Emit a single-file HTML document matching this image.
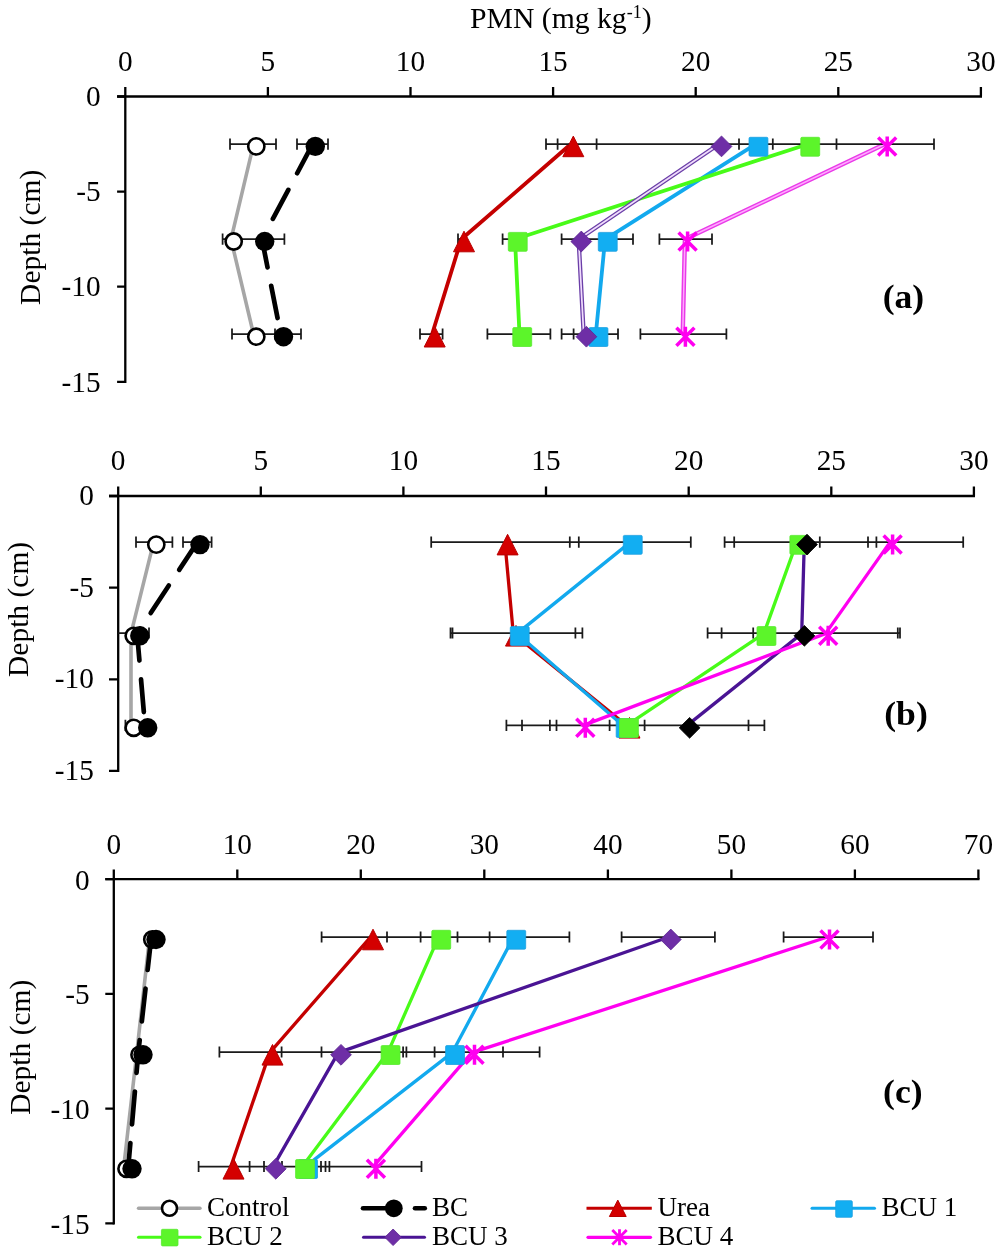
<!DOCTYPE html>
<html lang="en"><head><meta charset="utf-8"><title>PMN depth profiles</title>
<style>html,body{margin:0;padding:0;background:#fff}svg{display:block}text{font-family:'Liberation Serif', 'Times New Roman', serif;fill:#000}</style>
</head><body>
<svg width="1000" height="1256" viewBox="0 0 1000 1256">
<rect width="1000" height="1256" fill="#fff"/>
<text x="560.8" y="28.1" text-anchor="middle" font-size="29.7">PMN (mg kg<tspan font-size="18" dy="-10">-1</tspan><tspan dy="10">)</tspan></text>
<g id="panel-a">
<path d="M125.3 382.9V96.5M117.1 96.5H982.0" fill="none" stroke="#000" stroke-width="2.3"/>
<text x="125.3" y="71.2" text-anchor="middle" font-size="29.3">0</text>
<text x="267.9" y="71.2" text-anchor="middle" font-size="29.3">5</text>
<text x="410.5" y="71.2" text-anchor="middle" font-size="29.3">10</text>
<text x="553.1" y="71.2" text-anchor="middle" font-size="29.3">15</text>
<text x="695.7" y="71.2" text-anchor="middle" font-size="29.3">20</text>
<text x="838.3" y="71.2" text-anchor="middle" font-size="29.3">25</text>
<text x="980.9" y="71.2" text-anchor="middle" font-size="29.3">30</text>
<text x="100.6" y="106.2" text-anchor="end" font-size="29.3">0</text>
<text x="100.6" y="201.3" text-anchor="end" font-size="29.3">-5</text>
<text x="100.6" y="296.4" text-anchor="end" font-size="29.3">-10</text>
<text x="100.6" y="391.5" text-anchor="end" font-size="29.3">-15</text>
<path d="M125.3 96.5V86.9M267.9 96.5V86.9M410.5 96.5V86.9M553.1 96.5V86.9M695.7 96.5V86.9M838.3 96.5V86.9M980.9 96.5V86.9M125.3 96.5H117.1M125.3 191.6H117.1M125.3 286.7H117.1M125.3 381.8H117.1" fill="none" stroke="#000" stroke-width="2.3"/>
<path d="M253.6 144.2L231.0 239.3L253.6 334.5" fill="none" stroke="#a6a6a6" stroke-width="3.6" stroke-linejoin="round" />
<path d="M312.6 144.2L262.0 239.3L280.8 334.5" fill="none" stroke="#000000" stroke-width="4.7" stroke-linejoin="round" stroke-linecap="round" stroke-dasharray="32.9 18.8"/>
<path d="M570.6 144.2L461.3 239.3L432.0 334.5" fill="none" stroke="#c40000" stroke-width="3.8" stroke-linejoin="round" />
<path d="M755.8 144.2L605.1 239.3L595.8 334.5" fill="none" stroke="#12a9ee" stroke-width="3.8" stroke-linejoin="round" />
<path d="M807.6 144.2L515.0 239.3L519.5 334.5" fill="none" stroke="#48fb18" stroke-width="3.8" stroke-linejoin="round" />
<path d="M718.8 144.2L578.6 239.3L583.7 334.5" fill="none" stroke="#6b3fa8" stroke-width="4.3" stroke-linejoin="round" />
<path d="M718.8 144.2L578.6 239.3L583.7 334.5" fill="none" stroke="#f0dcfc" stroke-width="1.7" stroke-linejoin="round" />
<path d="M884.5 144.2L684.9 239.3L682.7 334.5" fill="none" stroke="#e93ae8" stroke-width="4.4" stroke-linejoin="round" />
<path d="M884.5 144.2L684.9 239.3L682.7 334.5" fill="none" stroke="#ffa8ff" stroke-width="1.5" stroke-linejoin="round" />
<path d="M230.0 144.2H276.0M230.0 138.6V149.8M276.0 138.6V149.8M297.0 144.2H328.0M297.0 138.6V149.8M328.0 138.6V149.8M546.0 144.2H934.0M546.0 138.6V149.8M557.6 138.6V149.8M596.6 138.6V149.8M739.0 138.6V149.8M772.8 138.6V149.8M836.5 138.6V149.8M934.0 138.6V149.8" fill="none" stroke="#1a1a1a" stroke-width="1.75"/>
<path d="M222.6 239.2H284.4M222.6 233.6V244.8M284.4 233.6V244.8M458.0 239.2H466.0M458.0 233.6V244.8M502.6 239.2H520.0M502.6 233.6V244.8M561.6 239.2H633.0M561.6 233.6V244.8M633.0 233.6V244.8M659.4 239.2H712.0M659.4 233.6V244.8M712.0 233.6V244.8" fill="none" stroke="#1a1a1a" stroke-width="1.75"/>
<path d="M232.0 334.0H301.0M232.0 328.4V339.6M275.0 328.4V339.6M301.0 328.4V339.6M420.0 334.0H442.6M420.0 328.4V339.6M442.6 328.4V339.6M487.4 334.0H550.4M487.4 328.4V339.6M550.4 328.4V339.6M561.6 334.0H618.0M561.6 328.4V339.6M573.6 328.4V339.6M618.0 328.4V339.6M640.4 334.0H726.4M640.4 328.4V339.6M726.4 328.4V339.6" fill="none" stroke="#1a1a1a" stroke-width="1.75"/>
<circle cx="256.3" cy="146.4" r="8.1" fill="#fff" stroke="#000" stroke-width="2.6"/>
<circle cx="315.3" cy="146.4" r="9.7" fill="#000"/>
<path d="M573.3 136.1L583.8 156.7L562.8 156.7Z" fill="#d40000" stroke="#b80000" stroke-width="1" stroke-linejoin="miter"/>
<rect x="749.0" y="137.3" width="18.9" height="18.9" rx="1.2" fill="#12aef2" stroke="#1e9fe0" stroke-width="0.8"/>
<rect x="800.8" y="137.3" width="18.9" height="18.9" rx="1.2" fill="#5cf52a" stroke="#58e830" stroke-width="0.8"/>
<path d="M721.5 136.0L731.9 146.4L721.5 156.8L711.1 146.4Z" fill="#6e2ea6" stroke="#5a2490" stroke-width="0.8"/>
<path d="M878.2 137.4L896.2 155.4M878.2 155.4L896.2 137.4M887.2 136.4L887.2 156.4" fill="none" stroke="#ff00f0" stroke-width="3.5" stroke-linecap="butt"/>
<circle cx="233.7" cy="241.5" r="8.1" fill="#fff" stroke="#000" stroke-width="2.6"/>
<circle cx="264.7" cy="241.5" r="9.7" fill="#000"/>
<path d="M464.0 231.2L474.5 251.8L453.5 251.8Z" fill="#d40000" stroke="#b80000" stroke-width="1" stroke-linejoin="miter"/>
<rect x="598.3" y="232.4" width="18.9" height="18.9" rx="1.2" fill="#12aef2" stroke="#1e9fe0" stroke-width="0.8"/>
<rect x="508.3" y="232.4" width="18.9" height="18.9" rx="1.2" fill="#5cf52a" stroke="#58e830" stroke-width="0.8"/>
<path d="M581.3 231.1L591.7 241.5L581.3 251.9L570.9 241.5Z" fill="#6e2ea6" stroke="#5a2490" stroke-width="0.8"/>
<path d="M678.6 232.5L696.6 250.5M678.6 250.5L696.6 232.5M687.6 231.5L687.6 251.5" fill="none" stroke="#ff00f0" stroke-width="3.5" stroke-linecap="butt"/>
<circle cx="256.3" cy="336.7" r="8.1" fill="#fff" stroke="#000" stroke-width="2.6"/>
<circle cx="283.5" cy="336.7" r="9.7" fill="#000"/>
<path d="M434.7 326.4L445.2 347.0L424.2 347.0Z" fill="#d40000" stroke="#b80000" stroke-width="1" stroke-linejoin="miter"/>
<rect x="589.0" y="327.6" width="18.9" height="18.9" rx="1.2" fill="#12aef2" stroke="#1e9fe0" stroke-width="0.8"/>
<rect x="512.8" y="327.6" width="18.9" height="18.9" rx="1.2" fill="#5cf52a" stroke="#58e830" stroke-width="0.8"/>
<path d="M586.4 326.3L596.8 336.7L586.4 347.1L576.0 336.7Z" fill="#6e2ea6" stroke="#5a2490" stroke-width="0.8"/>
<path d="M676.4 327.7L694.4 345.7M676.4 345.7L694.4 327.7M685.4 326.7L685.4 346.7" fill="none" stroke="#ff00f0" stroke-width="3.5" stroke-linecap="butt"/>
<text transform="translate(903.4 308) scale(1.08 1)" text-anchor="middle" font-size="33" font-weight="bold">(a)</text>
<text transform="translate(39.9 237.3) rotate(-90)" text-anchor="middle" font-size="29.5">Depth (cm)</text>
</g>
<g id="panel-b">
<path d="M118.2 772.0V496.0M109.0 496.0H975.0" fill="none" stroke="#000" stroke-width="2.3"/>
<text x="118.2" y="470.2" text-anchor="middle" font-size="29.3">0</text>
<text x="260.8" y="470.2" text-anchor="middle" font-size="29.3">5</text>
<text x="403.4" y="470.2" text-anchor="middle" font-size="29.3">10</text>
<text x="546.0" y="470.2" text-anchor="middle" font-size="29.3">15</text>
<text x="688.7" y="470.2" text-anchor="middle" font-size="29.3">20</text>
<text x="831.3" y="470.2" text-anchor="middle" font-size="29.3">25</text>
<text x="973.9" y="470.2" text-anchor="middle" font-size="29.3">30</text>
<text x="93.9" y="504.9" text-anchor="end" font-size="29.3">0</text>
<text x="93.9" y="596.5" text-anchor="end" font-size="29.3">-5</text>
<text x="93.9" y="688.2" text-anchor="end" font-size="29.3">-10</text>
<text x="93.9" y="779.8" text-anchor="end" font-size="29.3">-15</text>
<path d="M118.2 496.0V486.4M260.8 496.0V486.4M403.4 496.0V486.4M546.0 496.0V486.4M688.7 496.0V486.4M831.3 496.0V486.4M973.9 496.0V486.4M118.2 496.0H109.0M118.2 587.6H109.0M118.2 679.3H109.0M118.2 770.9H109.0" fill="none" stroke="#000" stroke-width="2.3"/>
<path d="M153.6 542.4L131.0 633.6L131.0 725.6" fill="none" stroke="#a6a6a6" stroke-width="3.6" stroke-linejoin="round" />
<path d="M197.3 542.4L137.1 633.6L145.0 725.6" fill="none" stroke="#000000" stroke-width="4.7" stroke-linejoin="round" stroke-linecap="round" stroke-dasharray="32.9 18.8"/>
<path d="M504.9 542.4L513.3 633.6L626.8 725.6" fill="none" stroke="#c40000" stroke-width="3.3" stroke-linejoin="round" />
<path d="M630.1 542.4L517.0 633.6L623.0 725.6" fill="none" stroke="#12a9ee" stroke-width="3.3" stroke-linejoin="round" />
<path d="M796.7 542.4L763.8 633.6L626.3 725.6" fill="none" stroke="#48fb18" stroke-width="3.3" stroke-linejoin="round" />
<path d="M804.3 542.4L801.7 633.6L686.9 725.6" fill="none" stroke="#4a1494" stroke-width="3.3" stroke-linejoin="round" />
<path d="M889.9 542.4L825.5 633.6L582.6 725.6" fill="none" stroke="#ff00f0" stroke-width="3.3" stroke-linejoin="round" />
<path d="M136.0 542.2H172.4M136.0 536.6V547.8M172.4 536.6V547.8M183.0 542.2H211.6M183.0 536.6V547.8M211.6 536.6V547.8M431.2 542.2H690.8M431.2 536.6V547.8M569.8 536.6V547.8M578.8 536.6V547.8M690.8 536.6V547.8M724.6 542.2H963.2M724.6 536.6V547.8M734.2 536.6V547.8M819.8 536.6V547.8M868.0 536.6V547.8M876.4 536.6V547.8M963.2 536.6V547.8" fill="none" stroke="#1a1a1a" stroke-width="1.75"/>
<path d="M118.2 633.0H149.0M149.0 627.4V638.6M450.5 633.0H582.4M450.5 627.4V638.6M452.5 627.4V638.6M575.4 627.4V638.6M582.4 627.4V638.6M707.6 633.0H900.0M707.6 627.4V638.6M721.6 627.4V638.6M753.2 627.4V638.6M897.8 627.4V638.6M900.0 627.4V638.6" fill="none" stroke="#1a1a1a" stroke-width="1.75"/>
<path d="M125.4 725.3H150.0M125.4 719.7V730.9M506.4 725.3H764.4M506.4 719.7V730.9M522.0 719.7V730.9M549.9 719.7V730.9M556.5 719.7V730.9M609.6 719.7V730.9M644.6 719.7V730.9M748.5 719.7V730.9M764.4 719.7V730.9" fill="none" stroke="#1a1a1a" stroke-width="1.75"/>
<circle cx="156.3" cy="544.6" r="8.1" fill="#fff" stroke="#000" stroke-width="2.6"/>
<circle cx="200.0" cy="544.6" r="9.7" fill="#000"/>
<path d="M507.6 534.3L518.1 554.9L497.1 554.9Z" fill="#d40000" stroke="#b80000" stroke-width="1" stroke-linejoin="miter"/>
<rect x="623.3" y="535.4" width="18.9" height="18.9" rx="1.2" fill="#12aef2" stroke="#1e9fe0" stroke-width="0.8"/>
<rect x="789.9" y="535.4" width="18.9" height="18.9" rx="1.2" fill="#5cf52a" stroke="#58e830" stroke-width="0.8"/>
<path d="M807.0 534.2L817.4 544.6L807.0 555.0L796.6 544.6Z" fill="#000" stroke="#000" stroke-width="0.8"/>
<path d="M883.6 535.6L901.6 553.6M883.6 553.6L901.6 535.6M892.6 534.6L892.6 554.6" fill="none" stroke="#ff00f0" stroke-width="3.5" stroke-linecap="butt"/>
<circle cx="133.7" cy="635.8" r="8.1" fill="#fff" stroke="#000" stroke-width="2.6"/>
<circle cx="139.8" cy="635.8" r="9.7" fill="#000"/>
<path d="M516.0 625.5L526.5 646.1L505.5 646.1Z" fill="#d40000" stroke="#b80000" stroke-width="1" stroke-linejoin="miter"/>
<rect x="510.3" y="626.6" width="18.9" height="18.9" rx="1.2" fill="#12aef2" stroke="#1e9fe0" stroke-width="0.8"/>
<rect x="757.0" y="626.6" width="18.9" height="18.9" rx="1.2" fill="#5cf52a" stroke="#58e830" stroke-width="0.8"/>
<path d="M804.4 625.4L814.8 635.8L804.4 646.2L794.0 635.8Z" fill="#000" stroke="#000" stroke-width="0.8"/>
<path d="M819.2 626.8L837.2 644.8M819.2 644.8L837.2 626.8M828.2 625.8L828.2 645.8" fill="none" stroke="#ff00f0" stroke-width="3.5" stroke-linecap="butt"/>
<circle cx="133.7" cy="727.8" r="8.1" fill="#fff" stroke="#000" stroke-width="2.6"/>
<circle cx="147.7" cy="727.8" r="9.7" fill="#000"/>
<path d="M629.5 717.5L640.0 738.1L619.0 738.1Z" fill="#d40000" stroke="#b80000" stroke-width="1" stroke-linejoin="miter"/>
<rect x="616.2" y="718.6" width="18.9" height="18.9" rx="1.2" fill="#12aef2" stroke="#1e9fe0" stroke-width="0.8"/>
<rect x="619.5" y="718.6" width="18.9" height="18.9" rx="1.2" fill="#5cf52a" stroke="#58e830" stroke-width="0.8"/>
<path d="M689.6 717.4L700.0 727.8L689.6 738.2L679.2 727.8Z" fill="#000" stroke="#000" stroke-width="0.8"/>
<path d="M576.3 718.8L594.3 736.8M576.3 736.8L594.3 718.8M585.3 717.8L585.3 737.8" fill="none" stroke="#ff00f0" stroke-width="3.5" stroke-linecap="butt"/>
<text transform="translate(906 724.6) scale(1.08 1)" text-anchor="middle" font-size="33" font-weight="bold">(b)</text>
<text transform="translate(27.8 609.4) rotate(-90)" text-anchor="middle" font-size="29.5">Depth (cm)</text>
</g>
<g id="panel-c">
<path d="M113.8 1224.5V879.2M105.3 879.2H979.5" fill="none" stroke="#000" stroke-width="2.3"/>
<text x="113.8" y="853.8" text-anchor="middle" font-size="29.3">0</text>
<text x="237.3" y="853.8" text-anchor="middle" font-size="29.3">10</text>
<text x="360.8" y="853.8" text-anchor="middle" font-size="29.3">20</text>
<text x="484.3" y="853.8" text-anchor="middle" font-size="29.3">30</text>
<text x="607.9" y="853.8" text-anchor="middle" font-size="29.3">40</text>
<text x="731.4" y="853.8" text-anchor="middle" font-size="29.3">50</text>
<text x="854.9" y="853.8" text-anchor="middle" font-size="29.3">60</text>
<text x="978.4" y="853.8" text-anchor="middle" font-size="29.3">70</text>
<text x="89.6" y="889.6" text-anchor="end" font-size="29.3">0</text>
<text x="89.6" y="1004.3" text-anchor="end" font-size="29.3">-5</text>
<text x="89.6" y="1119.1" text-anchor="end" font-size="29.3">-10</text>
<text x="89.6" y="1233.8" text-anchor="end" font-size="29.3">-15</text>
<path d="M113.8 879.2V869.6M237.3 879.2V869.6M360.8 879.2V869.6M484.3 879.2V869.6M607.9 879.2V869.6M731.4 879.2V869.6M854.9 879.2V869.6M978.4 879.2V869.6M113.8 879.2H105.3M113.8 993.9H105.3M113.8 1108.7H105.3M113.8 1223.4H105.3" fill="none" stroke="#000" stroke-width="2.3"/>
<path d="M149.6 937.3L136.8 1052.6L123.8 1166.6" fill="none" stroke="#a6a6a6" stroke-width="3.6" stroke-linejoin="round" />
<path d="M151.3 937.3L138.3 1052.6L128.3 1166.6" fill="none" stroke="#000000" stroke-width="4.7" stroke-linejoin="round" stroke-linecap="round" stroke-dasharray="32.9 18.8"/>
<path d="M370.3 937.3L269.8 1052.6L230.8 1166.6" fill="none" stroke="#c40000" stroke-width="3.3" stroke-linejoin="round" />
<path d="M513.5 937.3L452.3 1052.6L305.3 1166.6" fill="none" stroke="#12a9ee" stroke-width="3.3" stroke-linejoin="round" />
<path d="M438.5 937.3L387.8 1052.6L302.3 1166.6" fill="none" stroke="#48fb18" stroke-width="3.3" stroke-linejoin="round" />
<path d="M668.1 937.3L338.3 1052.6L273.1 1166.6" fill="none" stroke="#4a1494" stroke-width="3.3" stroke-linejoin="round" />
<path d="M826.8 937.3L471.8 1052.6L373.2 1166.6" fill="none" stroke="#ff00f0" stroke-width="3.3" stroke-linejoin="round" />
<path d="M321.6 937.0H569.4M321.6 931.4V942.6M387.0 931.4V942.6M420.6 931.4V942.6M457.5 931.4V942.6M489.6 931.4V942.6M569.4 931.4V942.6M621.6 937.0H714.9M621.6 931.4V942.6M714.9 931.4V942.6M783.6 937.0H873.0M783.6 931.4V942.6M873.0 931.4V942.6" fill="none" stroke="#1a1a1a" stroke-width="1.75"/>
<path d="M219.4 1052.0H539.6M219.4 1046.4V1057.6M281.6 1046.4V1057.6M321.5 1046.4V1057.6M403.1 1046.4V1057.6M406.4 1046.4V1057.6M434.6 1046.4V1057.6M503.0 1046.4V1057.6M539.6 1046.4V1057.6" fill="none" stroke="#1a1a1a" stroke-width="1.75"/>
<path d="M198.6 1166.5H421.5M198.6 1160.9V1172.1M249.6 1160.9V1172.1M264.0 1160.9V1172.1M282.0 1160.9V1172.1M321.0 1160.9V1172.1M325.5 1160.9V1172.1M329.4 1160.9V1172.1M421.5 1160.9V1172.1" fill="none" stroke="#1a1a1a" stroke-width="1.75"/>
<circle cx="152.3" cy="939.5" r="8.1" fill="#fff" stroke="#000" stroke-width="2.6"/>
<circle cx="156.0" cy="939.5" r="9.7" fill="#000"/>
<path d="M373.0 929.2L383.5 949.8L362.5 949.8Z" fill="#d40000" stroke="#b80000" stroke-width="1" stroke-linejoin="miter"/>
<rect x="506.8" y="930.3" width="18.9" height="18.9" rx="1.2" fill="#12aef2" stroke="#1e9fe0" stroke-width="0.8"/>
<rect x="431.8" y="930.3" width="18.9" height="18.9" rx="1.2" fill="#5cf52a" stroke="#58e830" stroke-width="0.8"/>
<path d="M670.8 929.1L681.2 939.5L670.8 949.9L660.4 939.5Z" fill="#6e2ea6" stroke="#5a2490" stroke-width="0.8"/>
<path d="M820.5 930.5L838.5 948.5M820.5 948.5L838.5 930.5M829.5 929.5L829.5 949.5" fill="none" stroke="#ff00f0" stroke-width="3.5" stroke-linecap="butt"/>
<circle cx="139.5" cy="1054.8" r="8.1" fill="#fff" stroke="#000" stroke-width="2.6"/>
<circle cx="143.0" cy="1054.8" r="9.7" fill="#000"/>
<path d="M272.5 1044.5L283.0 1065.1L262.0 1065.1Z" fill="#d40000" stroke="#b80000" stroke-width="1" stroke-linejoin="miter"/>
<rect x="445.6" y="1045.6" width="18.9" height="18.9" rx="1.2" fill="#12aef2" stroke="#1e9fe0" stroke-width="0.8"/>
<rect x="381.1" y="1045.6" width="18.9" height="18.9" rx="1.2" fill="#5cf52a" stroke="#58e830" stroke-width="0.8"/>
<path d="M341.0 1044.4L351.4 1054.8L341.0 1065.2L330.6 1054.8Z" fill="#6e2ea6" stroke="#5a2490" stroke-width="0.8"/>
<path d="M465.5 1045.8L483.5 1063.8M465.5 1063.8L483.5 1045.8M474.5 1044.8L474.5 1064.8" fill="none" stroke="#ff00f0" stroke-width="3.5" stroke-linecap="butt"/>
<circle cx="126.5" cy="1168.8" r="8.1" fill="#fff" stroke="#000" stroke-width="2.6"/>
<circle cx="132.0" cy="1168.8" r="9.7" fill="#000"/>
<path d="M233.5 1158.5L244.0 1179.1L223.0 1179.1Z" fill="#d40000" stroke="#b80000" stroke-width="1" stroke-linejoin="miter"/>
<rect x="298.6" y="1159.6" width="18.9" height="18.9" rx="1.2" fill="#12aef2" stroke="#1e9fe0" stroke-width="0.8"/>
<rect x="295.6" y="1159.6" width="18.9" height="18.9" rx="1.2" fill="#5cf52a" stroke="#58e830" stroke-width="0.8"/>
<path d="M275.8 1158.4L286.2 1168.8L275.8 1179.2L265.4 1168.8Z" fill="#6e2ea6" stroke="#5a2490" stroke-width="0.8"/>
<path d="M366.9 1159.8L384.9 1177.8M366.9 1177.8L384.9 1159.8M375.9 1158.8L375.9 1178.8" fill="none" stroke="#ff00f0" stroke-width="3.5" stroke-linecap="butt"/>
<text transform="translate(902.8 1102.8) scale(1.08 1)" text-anchor="middle" font-size="33" font-weight="bold">(c)</text>
<text transform="translate(29.6 1047.2) rotate(-90)" text-anchor="middle" font-size="29.5">Depth (cm)</text>
</g>
<g id="legend" font-size="27">
<path d="M138.5 1208.3H200.0" stroke="#a6a6a6" stroke-width="3.4" fill="none" stroke-linecap="round"/>
<circle cx="169.5" cy="1208.3" r="7.5" fill="#fff" stroke="#000" stroke-width="2.6"/>
<text x="207" y="1215.8">Control</text>
<path d="M363.0 1208.3H395.0" stroke="#000" stroke-width="4.6" fill="none" stroke-linecap="round"/>
<path d="M415.0 1208.3H424.8" stroke="#000" stroke-width="4.6" fill="none" stroke-linecap="round"/>
<circle cx="393.8" cy="1208.3" r="8.9" fill="#000"/>
<text x="432" y="1215.8">BC</text>
<path d="M586.5 1208.3H651.8" stroke="#c40000" stroke-width="3.0" fill="none" />
<path d="M617.8 1200.1L626.2 1216.5L609.4 1216.5Z" fill="#d40000" stroke="#b80000" stroke-width="1" stroke-linejoin="miter"/>
<text x="657.5" y="1215.8">Urea</text>
<path d="M812.0 1208.3H874.5" stroke="#12a9ee" stroke-width="3.0" fill="none" stroke-linecap="round"/>
<rect x="835.7" y="1200.7" width="16.6" height="16.6" rx="1.2" fill="#12aef2" stroke="#1e9fe0" stroke-width="0.8"/>
<text x="881.5" y="1215.8">BCU 1</text>
<path d="M138.5 1237.3H200.0" stroke="#48fb18" stroke-width="3.0" fill="none" stroke-linecap="round"/>
<rect x="161.4" y="1229.3" width="16.6" height="16.6" rx="1.2" fill="#5cf52a" stroke="#58e830" stroke-width="0.8"/>
<text x="207" y="1244.8">BCU 2</text>
<path d="M363.5 1237.3H424.5" stroke="#4a1494" stroke-width="3.0" fill="none" stroke-linecap="round"/>
<path d="M393.1 1229.0L401.4 1237.3L393.1 1245.6L384.8 1237.3Z" fill="#6e2ea6" stroke="#5a2490" stroke-width="0.8"/>
<text x="432" y="1244.8">BCU 3</text>
<path d="M588.0 1237.3H650.5" stroke="#ff00f0" stroke-width="3.2" fill="none" stroke-linecap="round"/>
<path d="M612.3 1230.1L626.7 1244.5M612.3 1244.5L626.7 1230.1M619.5 1229.3L619.5 1245.3" fill="none" stroke="#ff00f0" stroke-width="2.8" stroke-linecap="butt"/>
<text x="657.5" y="1244.8">BCU 4</text>
</g>
</svg>
</body></html>
